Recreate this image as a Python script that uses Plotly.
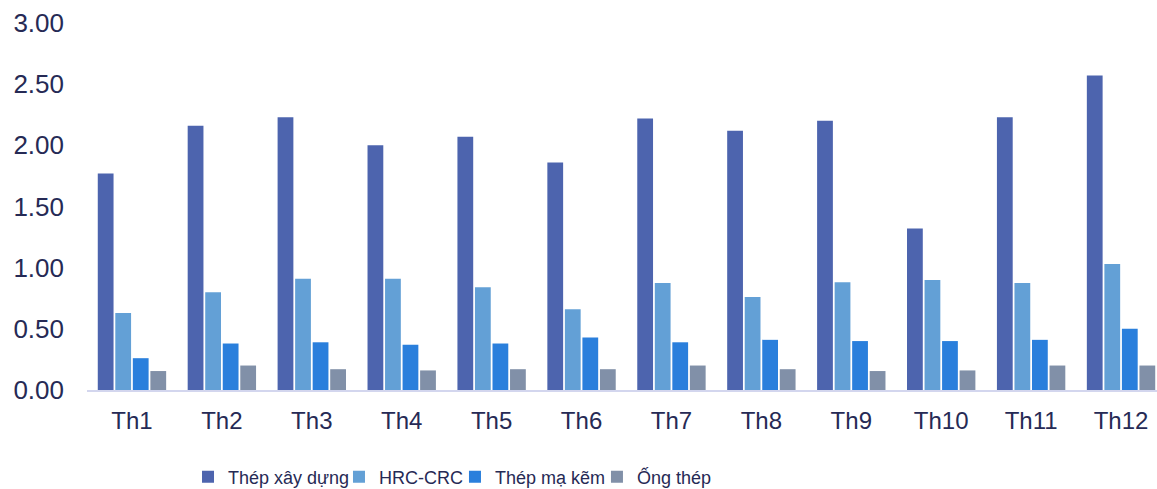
import plotly.graph_objects as go

months = ["Th1", "Th2", "Th3", "Th4", "Th5", "Th6", "Th7", "Th8", "Th9", "Th10", "Th11", "Th12"]
thep_xay_dung = [1.77, 2.16, 2.23, 2.00, 2.07, 1.86, 2.22, 2.12, 2.20, 1.32, 2.23, 2.57]
hrc_crc = [0.63, 0.80, 0.91, 0.91, 0.84, 0.66, 0.875, 0.76, 0.88, 0.90, 0.875, 1.03]
thep_ma_kem = [0.26, 0.38, 0.39, 0.37, 0.38, 0.43, 0.39, 0.41, 0.40, 0.40, 0.41, 0.50]
ong_thep = [0.155, 0.20, 0.17, 0.16, 0.17, 0.17, 0.20, 0.17, 0.155, 0.16, 0.20, 0.20]

series = [
    ("Thép xây dựng", thep_xay_dung, "#4d64ae", "legend", 0.0944),
    ("HRC-CRC", hrc_crc, "#63a0d6", "legend2", 0.2355),
    ("Thép mạ kẽm", thep_ma_kem, "#2a7fdc", "legend3", 0.3439),
    ("Ống thép", ong_thep, "#8190a8", "legend4", 0.4766),
]

text_color = "#262a55"

fig = go.Figure()
legends = {}
for name, vals, col, lg, lx in series:
    fig.add_trace(go.Bar(x=months, y=vals, name=name, legend=lg,
                         marker=dict(color=col, line=dict(width=0))))
    legends[lg] = dict(
        orientation="h", x=lx, xanchor="left", yref="container", y=0.0245, yanchor="middle",
        font=dict(family="Liberation Sans, Arial, sans-serif", size=18, color=text_color),
        bgcolor="rgba(0,0,0,0)",
    )

fig.update_layout(
    width=1157, height=489,
    margin=dict(l=87, r=0, t=23, b=99, autoexpand=False),
    paper_bgcolor="white", plot_bgcolor="white",
    barmode="group", bargap=0.22, bargroupgap=0.1,
    font=dict(family="Liberation Sans, Arial, sans-serif", color=text_color),
    showlegend=True,
    **legends,
)
fig.update_xaxes(
    range=[-0.5, 11.4], showgrid=False, showline=True, linecolor="#d3d6ee", linewidth=2,
    ticks="", tickfont=dict(size=24, color=text_color), ticklabelstandoff=8,
    fixedrange=True, automargin=False,
)
fig.update_yaxes(
    range=[0, 3], tickvals=[0, 0.5, 1, 1.5, 2, 2.5, 3], tickformat=".2f",
    showgrid=False, zeroline=False, showline=False, ticks="",
    tickfont=dict(size=26, color=text_color), ticklabelstandoff=22,
    fixedrange=True, automargin=False,
)

fig.write_html(
    "out.html",
    config={"displayModeBar": False},
    post_script="document.body.style.margin='0';document.body.style.overflow='hidden';",
)
